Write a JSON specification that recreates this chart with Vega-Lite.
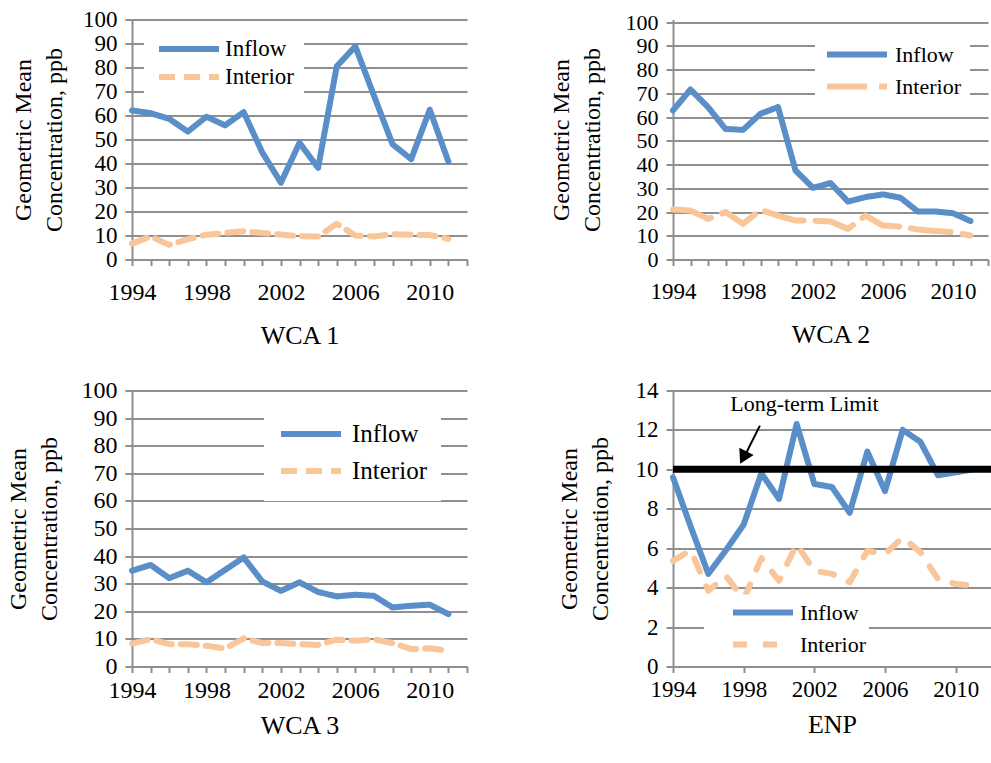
{
  "$schema": "https://vega.github.io/schema/vega-lite/v6.json",
  "background": "white",
  "padding": {"left": 6, "top": 8.5, "right": 0, "bottom": 0},
  "config": {
    "font": "Liberation Serif",
    "view": {"stroke": null},
    "style": {
      "guide-label": {"font": "Liberation Serif", "fill": "black"},
      "guide-title": {"font": "Liberation Serif", "fill": "black", "fontWeight": "normal"}
    },
    "axis": {
      "labelFont": "Liberation Serif", "titleFont": "Liberation Serif",
      "labelColor": "black", "titleColor": "black", "titleFontWeight": "normal",
      "labelOverlap": false, "labelFlush": false,
      "domainColor": "#8f8f8f", "domainWidth": 2,
      "tickColor": "#8f8f8f", "tickWidth": 2,
      "gridColor": "#8f8f8f", "gridWidth": 2
    },
    "legend": {
      "labelFont": "Liberation Serif", "labelColor": "black", "labelLimit": 0
    }
  },
  "datasets": {
    "wca1": [
      {"year":1994,"series":"Inflow","value":62.1},{"year":1995,"series":"Inflow","value":61},{"year":1996,"series":"Inflow","value":58.6},{"year":1997,"series":"Inflow","value":53.3},{"year":1998,"series":"Inflow","value":59.5},{"year":1999,"series":"Inflow","value":55.9},{"year":2000,"series":"Inflow","value":61.4},{"year":2001,"series":"Inflow","value":44.6},{"year":2002,"series":"Inflow","value":32},{"year":2003,"series":"Inflow","value":48.6},{"year":2004,"series":"Inflow","value":38.2},{"year":2005,"series":"Inflow","value":80.5},{"year":2006,"series":"Inflow","value":88.8},{"year":2007,"series":"Inflow","value":68.3},{"year":2008,"series":"Inflow","value":48},{"year":2009,"series":"Inflow","value":41.8},{"year":2010,"series":"Inflow","value":62.4},{"year":2011,"series":"Inflow","value":40.8},
      {"year":1994,"series":"Interior","value":6.6},{"year":1995,"series":"Interior","value":9.6},{"year":1996,"series":"Interior","value":6.1},{"year":1997,"series":"Interior","value":8.5},{"year":1998,"series":"Interior","value":10.3},{"year":1999,"series":"Interior","value":11},{"year":2000,"series":"Interior","value":11.8},{"year":2001,"series":"Interior","value":11},{"year":2002,"series":"Interior","value":10.4},{"year":2003,"series":"Interior","value":9.7},{"year":2004,"series":"Interior","value":9.6},{"year":2005,"series":"Interior","value":14.9},{"year":2006,"series":"Interior","value":10},{"year":2007,"series":"Interior","value":9.6},{"year":2008,"series":"Interior","value":10.5},{"year":2009,"series":"Interior","value":10.3},{"year":2010,"series":"Interior","value":10.2},{"year":2011,"series":"Interior","value":8.6}
    ],
    "wca2": [
      {"year":1994,"series":"Inflow","value":62.8},{"year":1995,"series":"Inflow","value":71.6},{"year":1996,"series":"Inflow","value":64.2},{"year":1997,"series":"Inflow","value":55},{"year":1998,"series":"Inflow","value":54.6},{"year":1999,"series":"Inflow","value":61.4},{"year":2000,"series":"Inflow","value":64.2},{"year":2001,"series":"Inflow","value":37.5},{"year":2002,"series":"Inflow","value":30.2},{"year":2003,"series":"Inflow","value":32.2},{"year":2004,"series":"Inflow","value":24.4},{"year":2005,"series":"Inflow","value":26.3},{"year":2006,"series":"Inflow","value":27.4},{"year":2007,"series":"Inflow","value":26},{"year":2008,"series":"Inflow","value":20.2},{"year":2009,"series":"Inflow","value":20.2},{"year":2010,"series":"Inflow","value":19.5},{"year":2011,"series":"Inflow","value":16.2},
      {"year":1994,"series":"Interior","value":21.1},{"year":1995,"series":"Interior","value":20.6},{"year":1996,"series":"Interior","value":17.1},{"year":1997,"series":"Interior","value":20},{"year":1998,"series":"Interior","value":15},{"year":1999,"series":"Interior","value":20.9},{"year":2000,"series":"Interior","value":18.5},{"year":2001,"series":"Interior","value":16.4},{"year":2002,"series":"Interior","value":16.4},{"year":2003,"series":"Interior","value":16},{"year":2004,"series":"Interior","value":12.9},{"year":2005,"series":"Interior","value":18.5},{"year":2006,"series":"Interior","value":14.3},{"year":2007,"series":"Interior","value":13.9},{"year":2008,"series":"Interior","value":12.6},{"year":2009,"series":"Interior","value":12},{"year":2010,"series":"Interior","value":11.5},{"year":2011,"series":"Interior","value":10.1}
    ],
    "wca3": [
      {"year":1994,"series":"Inflow","value":34.7},{"year":1995,"series":"Inflow","value":36.8},{"year":1996,"series":"Inflow","value":32},{"year":1997,"series":"Inflow","value":34.7},{"year":1998,"series":"Inflow","value":30.5},{"year":1999,"series":"Inflow","value":35},{"year":2000,"series":"Inflow","value":39.5},{"year":2001,"series":"Inflow","value":30.8},{"year":2002,"series":"Inflow","value":27.4},{"year":2003,"series":"Inflow","value":30.5},{"year":2004,"series":"Inflow","value":27},{"year":2005,"series":"Inflow","value":25.4},{"year":2006,"series":"Inflow","value":26},{"year":2007,"series":"Inflow","value":25.6},{"year":2008,"series":"Inflow","value":21.4},{"year":2009,"series":"Inflow","value":22},{"year":2010,"series":"Inflow","value":22.4},{"year":2011,"series":"Inflow","value":19},
      {"year":1994,"series":"Interior","value":8.3},{"year":1995,"series":"Interior","value":9.9},{"year":1996,"series":"Interior","value":8.1},{"year":1997,"series":"Interior","value":8.1},{"year":1998,"series":"Interior","value":7.5},{"year":1999,"series":"Interior","value":6.5},{"year":2000,"series":"Interior","value":10.2},{"year":2001,"series":"Interior","value":8.5},{"year":2002,"series":"Interior","value":8.5},{"year":2003,"series":"Interior","value":8.1},{"year":2004,"series":"Interior","value":7.8},{"year":2005,"series":"Interior","value":9.7},{"year":2006,"series":"Interior","value":9.3},{"year":2007,"series":"Interior","value":9.9},{"year":2008,"series":"Interior","value":8.5},{"year":2009,"series":"Interior","value":6.3},{"year":2010,"series":"Interior","value":6.6},{"year":2011,"series":"Interior","value":5.7}
    ],
    "enp": [
      {"year":1994,"series":"Inflow","value":9.6},{"year":1995,"series":"Inflow","value":7.1},{"year":1996,"series":"Inflow","value":4.7},{"year":1997,"series":"Inflow","value":5.9},{"year":1998,"series":"Inflow","value":7.2},{"year":1999,"series":"Inflow","value":9.8},{"year":2000,"series":"Inflow","value":8.5},{"year":2001,"series":"Inflow","value":12.3},{"year":2002,"series":"Inflow","value":9.26},{"year":2003,"series":"Inflow","value":9.1},{"year":2004,"series":"Inflow","value":7.8},{"year":2005,"series":"Inflow","value":10.9},{"year":2006,"series":"Inflow","value":8.9},{"year":2007,"series":"Inflow","value":12},{"year":2008,"series":"Inflow","value":11.4},{"year":2009,"series":"Inflow","value":9.7},{"year":2010,"series":"Inflow","value":9.85},{"year":2011,"series":"Inflow","value":10},
      {"year":1994,"series":"Interior","value":5.36},{"year":1995,"series":"Interior","value":5.9},{"year":1996,"series":"Interior","value":3.84},{"year":1997,"series":"Interior","value":4.6},{"year":1998,"series":"Interior","value":3.4},{"year":1999,"series":"Interior","value":5.5},{"year":2000,"series":"Interior","value":4.35},{"year":2001,"series":"Interior","value":6.2},{"year":2002,"series":"Interior","value":4.85},{"year":2003,"series":"Interior","value":4.7},{"year":2004,"series":"Interior","value":4.27},{"year":2005,"series":"Interior","value":5.87},{"year":2006,"series":"Interior","value":5.7},{"year":2007,"series":"Interior","value":6.55},{"year":2008,"series":"Interior","value":5.8},{"year":2009,"series":"Interior","value":4.43},{"year":2010,"series":"Interior","value":4.18},{"year":2011,"series":"Interior","value":4.1}
    ]
  },
  "columns": 2,
  "bounds": "flush",
  "spacing": {"row": 131, "column": 206},
  "resolve": {
    "scale": {"x": "independent", "y": "independent", "color": "independent", "strokeDash": "independent"},
    "legend": {"color": "independent", "strokeDash": "independent"}
  },
  "concat": [
    {
      "width": 335, "height": 240,
      "data": {"name": "wca1"},
      "mark": {"type": "line", "strokeWidth": 6, "strokeCap": "round", "strokeJoin": "round"},
      "encoding": {
        "x": {"field": "year", "type": "quantitative",
          "scale": {"domain": [1994, 2012], "nice": false, "zero": false},
          "axis": {"values": [1994,1995,1996,1997,1998,1999,2000,2001,2002,2003,2004,2005,2006,2007,2008,2009,2010,2011,2012],
            "labelExpr": "(datum.value - 1994) % 4 == 0 && datum.value < 2012 ? '' + datum.value : ''",
            "grid": false, "title": "WCA 1", "tickSize": 6, "labelPadding": 15, "titlePadding": 18,
            "labelFont": "Liberation Serif", "titleFont": "Liberation Serif", "labelColor": "black", "titleColor": "black",
            "labelFontSize": 24, "titleFontSize": 26, "labelFlush": false, "labelOverlap": false}},
        "y": {"field": "value", "type": "quantitative",
          "scale": {"domain": [0, 100], "nice": false},
          "axis": {"values": [0,10,20,30,40,50,60,70,80,90,100], "title": ["Geometric Mean", "Concentration, ppb"],
            "labelFont": "Liberation Serif", "titleFont": "Liberation Serif", "labelColor": "black", "titleColor": "black",
            "labelOverlap": false, "tickSize": 7, "labelPadding": 8, "titlePadding": 16, "labelFontSize": 23, "titleFontSize": 24, "titleLineHeight": 31}},
        "color": {"field": "series", "type": "nominal",
          "scale": {"domain": ["Inflow", "Interior"], "range": ["#5A8EC8", "#FAC598"]},
          "legend": {"orient": "none", "legendX": 12, "legendY": 5.5, "title": null, "fillColor": "white",
            "symbolType": "stroke", "symbolSize": 3600, "symbolStrokeWidth": 6, "labelFont": "Liberation Serif", "labelFontSize": 23,
            "padding": 10, "symbolOffset": 2, "labelOffset": 3, "rowPadding": 0, "clipHeight": 28}},
        "strokeDash": {"field": "series", "type": "nominal",
          "scale": {"domain": ["Inflow", "Interior"], "range": [[1, 0], [16, 9]]}, "legend": null}
      }
    },
    {
      "width": 315, "height": 240,
      "data": {"name": "wca2"},
      "mark": {"type": "line", "strokeWidth": 6, "strokeCap": "round", "strokeJoin": "round"},
      "encoding": {
        "x": {"field": "year", "type": "quantitative",
          "scale": {"domain": [1994, 2012], "nice": false, "zero": false},
          "axis": {"values": [1994,1995,1996,1997,1998,1999,2000,2001,2002,2003,2004,2005,2006,2007,2008,2009,2010,2011,2012],
            "labelExpr": "(datum.value - 1994) % 4 == 0 && datum.value < 2012 ? '' + datum.value : ''",
            "grid": false, "title": "WCA 2", "tickSize": 6, "labelPadding": 15, "titlePadding": 18,
            "labelFont": "Liberation Serif", "titleFont": "Liberation Serif", "labelColor": "black", "titleColor": "black",
            "labelFontSize": 23, "titleFontSize": 26, "labelFlush": false, "labelOverlap": false}},
        "y": {"field": "value", "type": "quantitative",
          "scale": {"domain": [0, 101.1], "nice": false},
          "axis": {"values": [0,10,20,30,40,50,60,70,80,90,100], "title": ["Geometric Mean", "Concentration, ppb"],
            "labelFont": "Liberation Serif", "titleFont": "Liberation Serif", "labelColor": "black", "titleColor": "black",
            "labelOverlap": false, "tickSize": 7, "labelPadding": 8, "titlePadding": 21, "labelFontSize": 22, "titleFontSize": 24, "titleLineHeight": 31}},
        "color": {"field": "series", "type": "nominal",
          "scale": {"domain": ["Inflow", "Interior"], "range": ["#5A8EC8", "#FAC598"]},
          "legend": {"orient": "none", "legendX": 142, "legendY": 11, "title": null, "fillColor": "white",
            "symbolType": "stroke", "symbolSize": 3600, "symbolStrokeWidth": 6, "labelFont": "Liberation Serif", "labelFontSize": 22,
            "padding": 9, "labelOffset": 5, "rowPadding": 2, "clipHeight": 30}},
        "strokeDash": {"field": "series", "type": "nominal",
          "scale": {"domain": ["Inflow", "Interior"], "range": [[1, 0], [40, 12]]}, "legend": null}
      }
    },
    {
      "width": 335, "height": 276,
      "data": {"name": "wca3"},
      "mark": {"type": "line", "strokeWidth": 6, "strokeCap": "round", "strokeJoin": "round"},
      "encoding": {
        "x": {"field": "year", "type": "quantitative",
          "scale": {"domain": [1994, 2012], "nice": false, "zero": false},
          "axis": {"values": [1994,1995,1996,1997,1998,1999,2000,2001,2002,2003,2004,2005,2006,2007,2008,2009,2010,2011,2012],
            "labelExpr": "(datum.value - 1994) % 4 == 0 && datum.value < 2012 ? '' + datum.value : ''",
            "grid": false, "title": "WCA 3", "tickSize": 6, "labelPadding": 6, "titlePadding": 10,
            "labelFont": "Liberation Serif", "titleFont": "Liberation Serif", "labelColor": "black", "titleColor": "black",
            "labelFontSize": 24, "titleFontSize": 26, "labelFlush": false, "labelOverlap": false}},
        "y": {"field": "value", "type": "quantitative",
          "scale": {"domain": [0, 100], "nice": false},
          "axis": {"values": [0,10,20,30,40,50,60,70,80,90,100], "title": ["Geometric Mean", "Concentration, ppb"],
            "labelFont": "Liberation Serif", "titleFont": "Liberation Serif", "labelColor": "black", "titleColor": "black",
            "labelOverlap": false, "tickSize": 7, "labelPadding": 8, "titlePadding": 20, "labelFontSize": 24, "titleFontSize": 24, "titleLineHeight": 31}},
        "color": {"field": "series", "type": "nominal",
          "scale": {"domain": ["Inflow", "Interior"], "range": ["#5A8EC8", "#FAC598"]},
          "legend": {"orient": "none", "legendX": 132, "legendY": 13.5, "title": null, "fillColor": "white",
            "symbolType": "stroke", "symbolSize": 3600, "symbolStrokeWidth": 6, "labelFont": "Liberation Serif", "labelFontSize": 25,
            "padding": 14, "labelOffset": 8, "rowPadding": 5, "clipHeight": 32}},
        "strokeDash": {"field": "series", "type": "nominal",
          "scale": {"domain": ["Inflow", "Interior"], "range": [[1, 0], [16, 9]]}, "legend": null}
      }
    },
    {
      "width": 318, "height": 276,
      "layer": [
        {
          "data": {"name": "enp"},
          "mark": {"type": "line", "strokeWidth": 6, "strokeCap": "round", "strokeJoin": "round"},
          "encoding": {
            "x": {"field": "year", "type": "quantitative",
              "scale": {"domain": [1994, 2012], "nice": false, "zero": false},
              "axis": {"values": [1994,1995,1996,1997,1998,1999,2000,2001,2002,2003,2004,2005,2006,2007,2008,2009,2010,2011,2012],
                "labelExpr": "(datum.value - 1994) % 4 == 0 && datum.value < 2012 ? '' + datum.value : ''",
                "grid": false, "title": "ENP", "tickSize": 6, "labelPadding": 6, "titlePadding": 10,
                "labelFont": "Liberation Serif", "titleFont": "Liberation Serif", "labelColor": "black", "titleColor": "black",
                "labelFontSize": 23, "titleFontSize": 26, "labelFlush": false, "labelOverlap": false}},
            "y": {"field": "value", "type": "quantitative",
              "scale": {"domain": [0, 14], "nice": false},
              "axis": {"values": [0,2,4,6,8,10,12,14], "title": ["Geometric Mean", "Concentration, ppb"],
                "labelFont": "Liberation Serif", "titleFont": "Liberation Serif", "labelColor": "black", "titleColor": "black",
                "labelOverlap": false, "tickSize": 7, "labelPadding": 8, "titlePadding": 23, "labelFontSize": 23, "titleFontSize": 24, "titleLineHeight": 31}},
            "color": {"field": "series", "type": "nominal",
              "scale": {"domain": ["Inflow", "Interior"], "range": ["#5A8EC8", "#FAC598"]},
              "legend": {"orient": "none", "legendX": 31, "legendY": 204, "title": null, "fillColor": "white",
                "symbolType": "stroke", "symbolSize": 3600, "symbolStrokeWidth": 6, "labelFont": "Liberation Serif", "labelFontSize": 22,
                "padding": 3, "symbolOffset": 23, "labelOffset": 4, "rowPadding": 2, "clipHeight": 30}},
            "strokeDash": {"field": "series", "type": "nominal",
              "scale": {"domain": ["Inflow", "Interior"], "range": [[1, 0], [14, 16]]},
              "legend": {"orient": "none", "legendX": 31, "legendY": 204, "title": null, "fillColor": "white",
                "symbolType": "stroke", "symbolSize": 3600, "symbolStrokeWidth": 6, "labelFont": "Liberation Serif", "labelFontSize": 22,
                "padding": 3, "symbolOffset": 23, "labelOffset": 4, "rowPadding": 2, "clipHeight": 30}}
          }
        },
        {
          "data": {"values": [{}]},
          "mark": {"type": "rule", "color": "black", "strokeWidth": 7},
          "encoding": {
            "y": {"datum": 10, "type": "quantitative", "axis": {"labelOverlap": false, "values": [0,2,4,6,8,10,12,14]}},
            "x": {"datum": 1994, "type": "quantitative", "axis": {"labelOverlap": false}},
            "x2": {"datum": 2012}}
        },
        {
          "data": {"values": [{}]},
          "mark": {"type": "rule", "color": "black", "strokeWidth": 2},
          "encoding": {
            "x": {"datum": 1998.92, "type": "quantitative", "axis": {"labelOverlap": false}},
            "y": {"datum": 12.22, "type": "quantitative", "axis": {"labelOverlap": false, "values": [0,2,4,6,8,10,12,14]}},
            "x2": {"datum": 1998.03}, "y2": {"datum": 10.63}}
        },
        {
          "data": {"values": [{}]},
          "mark": {"type": "point", "shape": "triangle-up", "filled": true, "color": "black", "size": 260, "angle": 207, "opacity": 1},
          "encoding": {
            "x": {"datum": 1997.98, "type": "quantitative", "axis": {"labelOverlap": false}},
            "y": {"datum": 10.6, "type": "quantitative", "axis": {"labelOverlap": false, "values": [0,2,4,6,8,10,12,14]}}}
        },
        {
          "data": {"values": [{}]},
          "mark": {"type": "text", "text": "Long-term Limit", "font": "Liberation Serif", "fontSize": 22, "color": "black", "align": "center", "baseline": "middle"},
          "encoding": {
            "x": {"datum": 2001.44, "type": "quantitative", "axis": {"labelOverlap": false}},
            "y": {"datum": 13.32, "type": "quantitative", "axis": {"labelOverlap": false, "values": [0,2,4,6,8,10,12,14]}}}
        }
      ]
    }
  ]
}
